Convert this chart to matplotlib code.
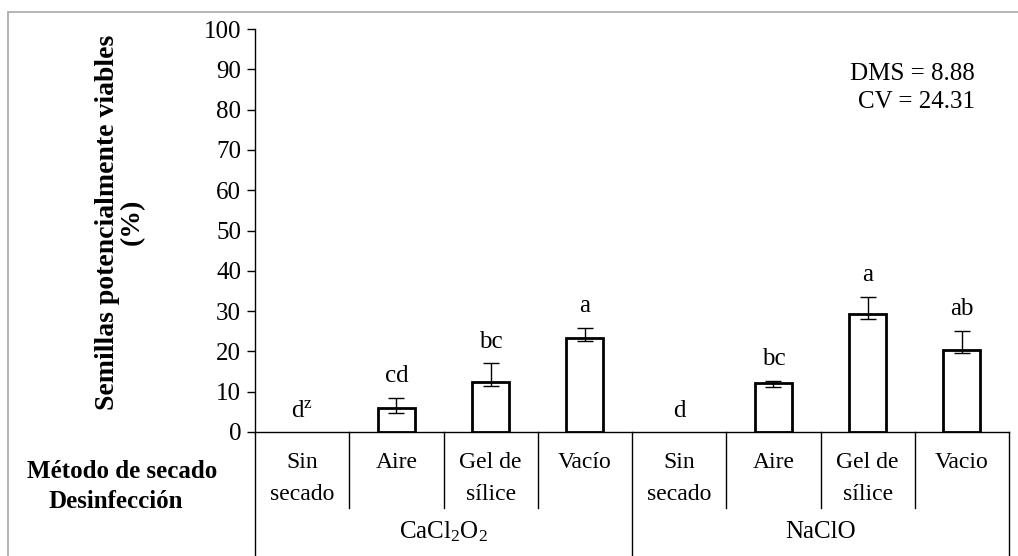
import matplotlib
matplotlib.use("Agg")
import matplotlib.pyplot as plt
import matplotlib.patches as patches
import numpy as np

plt.rcParams['font.family'] = ['Liberation Serif', 'DejaVu Serif']
plt.rcParams['mathtext.fontset'] = 'custom'
plt.rcParams['mathtext.rm'] = 'Liberation Serif'
plt.rcParams['mathtext.it'] = 'Liberation Serif:italic'

# ── data ──────────────────────────────────────────────────────────────────────
metodos = ['Sin\nsecado', 'Aire', 'Gel de\nsílice', 'Vacío',
           'Sin\nsecado', 'Aire', 'Gel de\nsílice', 'Vacio']
grupos = [r'CaCl$_2$O$_2$', 'NaClO']
valores = [0, 5.9, 12.3, 23.4, 0, 12.1, 29.4, 20.4]
err_inf = [0, 4.6, 11.4, 22.5, 0, 11.1, 28.1, 19.5]
err_sup = [0, 8.5, 17.0, 25.9, 0, 12.75, 33.6, 25.1]
letras = [r'd$^{\mathrm{z}}$', 'cd', 'bc', 'a', 'd', 'bc', 'a', 'ab']
yticks = np.arange(0, 101, 10)

FS = 18

# ── figure ────────────────────────────────────────────────────────────────────
fig = plt.figure(figsize=(10.18, 5.56), dpi=100)
W, H = 1018, 556
ax = fig.add_axes([255 / W, (H - 432) / H, (1009 - 255) / W, (432 - 29) / H])

x = np.arange(len(valores)) + 0.5
mask = np.array(valores) > 0
ve = np.array(valores)[mask]
xe = x[mask]
ax.bar(xe, ve, width=0.39, color='white', edgecolor='black', linewidth=2, zorder=2)
lo = ve - np.array(err_inf)[mask]
hi = np.array(err_sup)[mask] - ve
ax.errorbar(xe, ve, yerr=[lo, hi], fmt='none', ecolor='black', elinewidth=1,
            capsize=6, capthick=1, zorder=3)

for xi, top, lab in zip(x, err_sup, letras):
    ax.text(xi, top + 5.3, lab, ha='center', va='center', fontsize=FS)

ax.set_xlim(0, 8)
ax.set_ylim(0, 100)
ax.set_yticks(yticks)
ax.tick_params(axis='y', labelsize=FS, length=6, width=1, direction='out', pad=4)
ax.set_xticks([])
for s in ['top', 'right']:
    ax.spines[s].set_visible(False)
ax.spines['left'].set_linewidth(1)
ax.spines['bottom'].set_linewidth(1)

ax.set_ylabel('Semillas potencialmente viables\n(%)', fontsize=20,
              fontweight='bold', linespacing=1.0, va='center')
ax.yaxis.set_label_coords((120 - 255) / 754, (432 - 222) / 403)

ax.text((975 - 255) / 754, (432 - 88) / 403, 'DMS = 8.88\nCV = 24.31',
        transform=ax.transAxes, ha='right', va='center', fontsize=FS,
        linespacing=1.4)

# ── category table under the axis ────────────────────────────────────────────
tr = ax.get_xaxis_transform()
ax_h = 432 - 29
def ay(py):
    return (432 - py) / ax_h

for b in range(1, 8):
    bottom = ay(560) if b == 4 else ay(508)
    ax.plot([b, b], [0, bottom], color='black', lw=1, transform=tr, clip_on=False)
for b in [0, 8]:
    ax.plot([b, b], [0, ay(560)], color='black', lw=1, transform=tr, clip_on=False)

for xi, m in zip(x, metodos):
    for li, line in enumerate(m.split('\n')):
        ax.text(xi, ay(463 + 31 * li), line, transform=tr, ha='center',
                va='center', fontsize=17)
for gi, g in enumerate(grupos):
    ax.text(2 + 4 * gi, ay(532), g, transform=tr, ha='center', va='center', fontsize=FS)

fig.text(122 / W, 1 - 472 / H, 'Método de secado', ha='center', va='center',
         fontsize=FS, fontweight='bold')
fig.text(116 / W, 1 - 502 / H, 'Desinfección', ha='center', va='center',
         fontsize=FS, fontweight='bold')

# outer frame
fig.patches.append(patches.Rectangle((8 / W, -0.05), 1.1, 1.05 - 12 / H,
                                     transform=fig.transFigure, fill=False,
                                     edgecolor='#a8a8a8', lw=1.2))

fig.savefig('out.png', dpi=100)
